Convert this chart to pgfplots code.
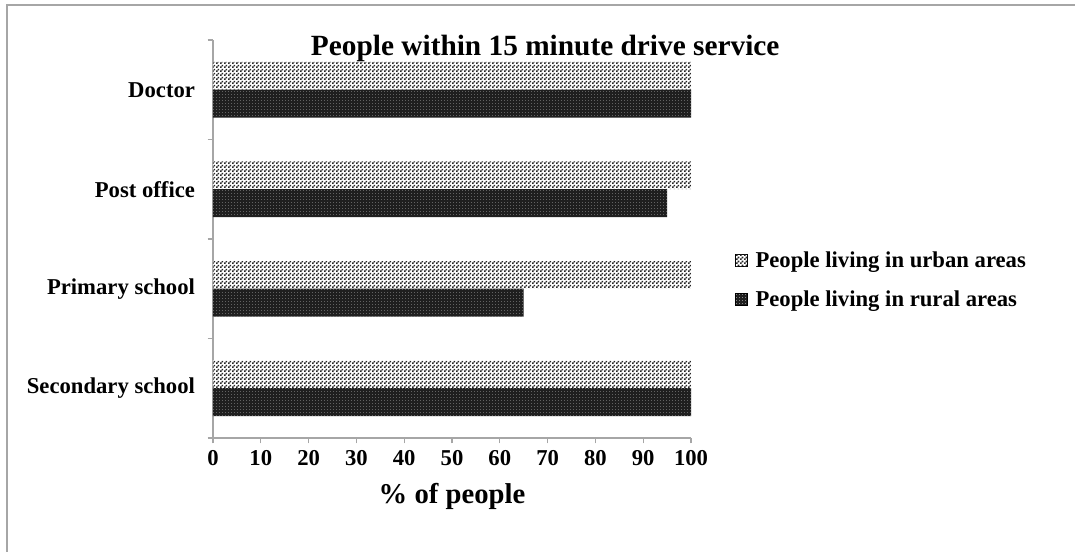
\documentclass[border=0pt]{standalone}
\usepackage{fontspec}
\setmainfont{Liberation Serif}
\usepackage{pgfplots}
\pgfplotsset{compat=1.18}
\usetikzlibrary{patterns}

% checker for urban bars
\pgfdeclarepatternformonly{urbanchk}{\pgfpointorigin}{\pgfpoint{3pt}{3pt}}{\pgfpoint{3pt}{3pt}}{
  \pgfpathrectangle{\pgfpointorigin}{\pgfpoint{1.5pt}{1.5pt}}
  \pgfpathrectangle{\pgfpoint{1.5pt}{1.5pt}}{\pgfpoint{1.5pt}{1.5pt}}
  \pgfusepath{fill}}
% small light dots on dark rural bars
\pgfdeclarepatternformonly{ruraldots}{\pgfpointorigin}{\pgfpoint{2pt}{2pt}}{\pgfpoint{2pt}{2pt}}{
  \pgfpathrectangle{\pgfpointorigin}{\pgfpoint{0.6pt}{0.6pt}}
  \pgfusepath{fill}}

\pgfplotstableread{
y urban rural
0 100 100
1 100 65
2 100 95
3 100 100
}\drivedata

\begin{document}
\begin{tikzpicture}
  % page frame: 1px = 0.75pt
  \path[use as bounding box] (0,0) rectangle (806.25pt,414pt);
  \draw[gray!70, line width=1.5pt] (5.25pt,0) -- (5.25pt,410.25pt) -- (806.25pt,410.25pt);

  \begin{axis}[
    at={(159.75pt,85.5pt)}, anchor=south west,
    scale only axis,
    width=358.5pt, height=298.5pt,
    xbar,
    bar width=0.28,
    xmin=0, xmax=100,
    ymin=-0.5, ymax=3.5,
    axis lines*=left,
    axis line style={gray!70, line width=0.8pt},
    xtick={0,10,...,100},
    ytick={0,1,2,3},
    yticklabels={Secondary school, Primary school, Post office, Doctor},
    major y tick style={draw=none},
    minor ytick={-0.5,0.5,1.5,2.5,3.5},
    minor tick length=4pt,
    major tick length=4pt,
    tick align=outside,
    tick style={gray!70, line width=0.8pt},
    /pgf/number format/assume math mode=true,
    tick label style={font=\fontsize{17}{20}\selectfont\bfseries},
    xticklabel style={yshift=-2pt},
    yticklabel style={xshift=-6pt},
    xlabel={\% of people},
    xlabel style={font=\fontsize{21.5}{25}\selectfont\bfseries, yshift=-6pt},
    legend style={at={(1.092,0.397)}, anchor=west, draw=none,
      font=\fontsize{17}{20}\selectfont\bfseries, row sep=12pt,
      inner sep=0pt},
    legend cell align=left,
    legend image code/.code={
      \draw[#1] (0cm,-4.5pt) rectangle (9pt,4.5pt);
      \path (13pt,0);},
    clip=false,
  ]

  \addplot[draw=none, fill=white, postaction={pattern=urbanchk, pattern color=black!85}, bar shift=0.14]
    table[x=urban, y=y] {\drivedata};
  \addlegendentry{People living in urban areas}

  \addplot[draw=none, fill=black!88, postaction={pattern=ruraldots, pattern color=gray!50}, bar shift=-0.14]
    table[x=rural, y=y] {\drivedata};
  \addlegendentry{People living in rural areas}

  \node[font=\fontsize{22}{25}\selectfont\bfseries] at (axis description cs:0.695,0.978)
    {People within 15 minute drive service};

  \end{axis}
\end{tikzpicture}
\end{document}
